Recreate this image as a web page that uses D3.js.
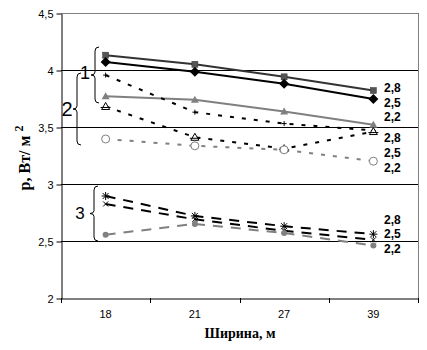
<!DOCTYPE html>
<html>
<head>
<meta charset="utf-8">
<script src="https://cdn.jsdelivr.net/npm/d3@7"></script>
<style>
  html, body { margin: 0; padding: 0; background: #fff; }
  svg { display: block; }
</style>
</head>
<body>
<svg id="chart" width="427" height="350"></svg>
<script>
// Widths along the x axis
const categories = ["18", "21", "27", "39"];
const yTicks = [2, 2.5, 3, 3.5, 4, 4.5];

// Group 1 (solid lines)
const g1_28 = [4.13, 4.05, 3.94, 3.82];
const g1_25 = [4.07, 3.985, 3.88, 3.745];
const g1_22 = [3.77, 3.74, 3.635, 3.52];
// Group 2 (dotted lines)
const g2_28 = [3.955, 3.63, 3.53, 3.47];
const g2_25 = [3.68, 3.41, 3.31, 3.46];
const g2_22 = [3.395, 3.335, 3.30, 3.20];
// Group 3 (dashed lines)
const g3_28 = [2.895, 2.72, 2.63, 2.56];
const g3_25 = [2.825, 2.69, 2.59, 2.51];
const g3_22 = [2.555, 2.65, 2.57, 2.46];

const seriesLabels = ["2,8", "2,5", "2,2"];
const groupLabels = ["1", "2", "3"];

const svg = d3.select("#chart");
const plotLeft = 61, plotRight = 418, plotTop = 13, plotBottom = 298;

const x = d3.scaleBand().domain(categories).range([plotLeft, plotRight]);
const y = d3.scaleLinear().domain([2, 4.5]).range([plotBottom, plotTop]);
const cx = c => x(c) + x.bandwidth() / 2;

// Plot frame and gridlines
svg.append("line").attr("x1", plotLeft).attr("x2", plotRight).attr("y1", y(4.5) + 0.5).attr("y2", y(4.5) + 0.5)
  .attr("stroke", "#808080").attr("stroke-width", 1);
svg.append("line").attr("x1", plotRight + 0.5).attr("x2", plotRight + 0.5).attr("y1", y(4.5)).attr("y2", y(2))
  .attr("stroke", "#808080").attr("stroke-width", 1);
svg.append("g").selectAll("line").data(yTicks.filter(v => v > 2 && v < 4.5)).join("line")
  .attr("x1", plotLeft).attr("x2", plotRight)
  .attr("y1", d => Math.round(y(d)) + 0.5).attr("y2", d => Math.round(y(d)) + 0.5)
  .attr("stroke", "#000").attr("stroke-width", 1);

// Y axis
const yAxis = d3.axisLeft(y).tickValues(yTicks).tickSize(5).tickSizeOuter(0)
  .tickFormat(d => String(d).replace(".", ","));
const ya = svg.append("g").attr("transform", `translate(${plotLeft + 0.5},0.5)`).call(yAxis);
ya.selectAll("path, line").attr("stroke", "#000");
ya.selectAll("text").attr("font-family", "Liberation Sans, Arial, sans-serif")
  .attr("font-size", 11).attr("fill", "#000").attr("x", -8);

// X axis: labels centred in bands, ticks at band boundaries
const xAxis = d3.axisBottom(x).tickSize(0).tickSizeOuter(0);
const xa = svg.append("g").attr("transform", `translate(0,${plotBottom + 0.5})`).call(xAxis);
xa.select(".domain").attr("stroke", "#000");
xa.selectAll("text").attr("font-family", "Liberation Sans, Arial, sans-serif")
  .attr("font-size", 11).attr("fill", "#000").attr("dy", "1.5em");
const bounds = categories.map(c => x(c)).concat([plotRight]);
svg.append("g").selectAll("line").data(bounds).join("line")
  .attr("x1", d => Math.round(d) + 0.5).attr("x2", d => Math.round(d) + 0.5)
  .attr("y1", plotBottom).attr("y2", plotBottom + 5).attr("stroke", "#000");

// Axis titles
svg.append("text").attr("x", 240).attr("y", 338).attr("text-anchor", "middle")
  .attr("font-family", "Liberation Serif, Times New Roman, serif").attr("font-weight", "bold")
  .attr("font-size", 14).text("Ширина, м");
const yt = svg.append("text").attr("transform", "translate(30,158) rotate(-90)")
  .attr("text-anchor", "middle")
  .attr("font-family", "Liberation Serif, Times New Roman, serif").attr("font-weight", "bold")
  .attr("font-size", 16);
yt.append("tspan").text("р, Вт/ м ");
yt.append("tspan").attr("font-size", 12).attr("dy", -7).text("2");

// Markers
function marker(g, type, px, py, color) {
  if (type === "square") {
    g.append("rect").attr("x", px - 3).attr("y", py - 3).attr("width", 6).attr("height", 6)
      .attr("fill", color).attr("stroke", "#333").attr("stroke-width", 0.5);
  } else if (type === "diamond") {
    g.append("path").attr("d", `M${px},${py - 5}L${px + 5},${py}L${px},${py + 5}L${px - 5},${py}Z`)
      .attr("fill", color);
  } else if (type === "triangle") {
    g.append("path").attr("d", `M${px},${py - 4}L${px + 4},${py + 3}L${px - 4},${py + 3}Z`)
      .attr("fill", color);
  } else if (type === "plus") {
    g.append("path").attr("d", `M${px - 2.5},${py}H${px + 2.5}M${px},${py - 2.5}V${py + 2.5}`)
      .attr("stroke", color).attr("stroke-width", 1);
  } else if (type === "otriangle") {
    g.append("path").attr("d", `M${px},${py - 4}L${px + 4},${py + 3}L${px - 4},${py + 3}Z`)
      .attr("fill", "#fff").attr("stroke", color).attr("stroke-width", 1);
    g.append("line").attr("x1", px - 5).attr("x2", px + 5).attr("y1", py + 1).attr("y2", py + 1)
      .attr("stroke", color).attr("stroke-width", 1);
  } else if (type === "ocircle") {
    g.append("circle").attr("cx", px).attr("cy", py).attr("r", 4)
      .attr("fill", "#fff").attr("stroke", color).attr("stroke-width", 1);
  } else if (type === "star") {
    g.append("path").attr("d",
      `M${px - 4},${py}H${px + 4}M${px},${py - 4}V${py + 4}M${px - 3},${py - 3}L${px + 3},${py + 3}M${px - 3},${py + 3}L${px + 3},${py - 3}`)
      .attr("stroke", color).attr("stroke-width", 1);
  } else if (type === "cross") {
    g.append("path").attr("d", `M${px - 2.5},${py - 2.5}L${px + 2.5},${py + 2.5}M${px - 2.5},${py + 2.5}L${px + 2.5},${py - 2.5}`)
      .attr("stroke", color).attr("stroke-width", 1);
  } else if (type === "dot") {
    g.append("circle").attr("cx", px).attr("cy", py).attr("r", 3).attr("fill", color);
  }
}

const series = [
  { values: g1_28, color: "#333333", mcolor: "#555555", dash: null, marker: "square" },
  { values: g1_25, color: "#000000", mcolor: "#000000", dash: null, marker: "diamond" },
  { values: g1_22, color: "#808080", mcolor: "#808080", dash: null, marker: "triangle" },
  { values: g2_28, color: "#000000", mcolor: "#000000", dash: "4,8", marker: "plus" },
  { values: g2_25, color: "#000000", mcolor: "#000000", dash: "4,8", marker: "otriangle" },
  { values: g2_22, color: "#808080", mcolor: "#808080", dash: "4,8", marker: "ocircle" },
  { values: g3_28, color: "#000000", mcolor: "#000000", dash: "10,8", marker: "star" },
  { values: g3_25, color: "#000000", mcolor: "#000000", dash: "10,8", marker: "cross" },
  { values: g3_22, color: "#808080", mcolor: "#808080", dash: "10,8", marker: "dot" }
];

const line = d3.line().x((d, i) => cx(categories[i])).y(d => y(d));
const plot = svg.append("g");
series.forEach(s => {
  const p = plot.append("path").datum(s.values).attr("d", line)
    .attr("fill", "none").attr("stroke", s.color).attr("stroke-width", 2);
  if (s.dash) p.attr("stroke-dasharray", s.dash);
});
series.forEach(s => {
  const g = plot.append("g");
  s.values.forEach((v, i) => marker(g, s.marker, cx(categories[i]), y(v), s.mcolor));
});

// Series labels at the right end of each group
const labelRows = [[92, 106.5, 121], [142, 157, 171.5], [223.5, 238, 252.5]];
labelRows.forEach(rows => {
  rows.forEach((ry, k) => {
    svg.append("text").attr("x", 384).attr("y", ry)
      .attr("font-family", "Liberation Sans, Arial, sans-serif").attr("font-size", 12)
      .attr("font-weight", "bold").attr("fill", "#000").text(seriesLabels[k]);
  });
});

// Group braces
function brace(xb, y1, y2) {
  const ym = (y1 + y2) / 2, w = 4;
  const d = `M${xb + w},${y1} Q${xb},${y1} ${xb},${y1 + 4} L${xb},${ym - 3} Q${xb},${ym} ${xb - w},${ym}` +
            ` Q${xb},${ym} ${xb},${ym + 3} L${xb},${y2 - 4} Q${xb},${y2} ${xb + w},${y2}`;
  svg.append("path").attr("d", d).attr("fill", "none").attr("stroke", "#000").attr("stroke-width", 1);
}
brace(95, 47, 103);
brace(77, 73, 145);
brace(94, 186, 241);
const groupLabelPos = [[85, 79, 18], [67, 116, 20], [80, 219, 17]];
groupLabels.forEach((t, i) => {
  const [lx, ly, fs] = groupLabelPos[i];
  svg.append("text").attr("x", lx).attr("y", ly).attr("text-anchor", "middle")
    .attr("font-family", "Liberation Sans, Arial, sans-serif").attr("font-size", fs).text(t);
});
</script>
</body>
</html>
